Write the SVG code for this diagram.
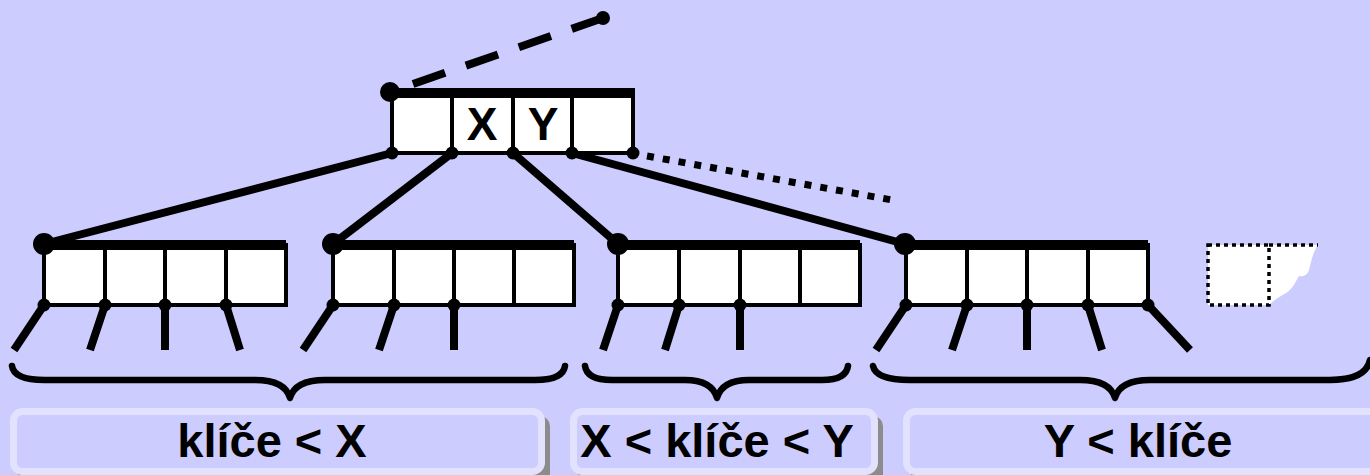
<svg xmlns="http://www.w3.org/2000/svg" width="1370" height="475" viewBox="0 0 1370 475">
<style>
.bg{fill:#ccccff}
.cell{fill:#fff;stroke:#000;stroke-width:4}
.div{stroke:#000;stroke-width:4}
.bar{stroke:#000;stroke-width:10}
.sh{fill:#8a8a9a}
.dot{fill:#000}
.edge{stroke:#000;stroke-width:8;fill:none}
.brace{stroke:#000;stroke-width:6.5;fill:none;stroke-linecap:round;stroke-linejoin:round}
.lbl{fill:#ccccff;stroke:#e2e2ff;stroke-width:7}
.lsh{fill:#8c8c8c}
.t{font-family:"Liberation Sans",Arial,sans-serif;font-weight:bold;fill:#000;text-anchor:middle}
</style>
<rect class="bg" x="0" y="0" width="1370" height="475"/>

<g id="connectors">
  <line x1="413" y1="84" x2="603" y2="18" stroke="#000" stroke-width="8" stroke-dasharray="34 22"/>
  <circle class="dot" cx="603" cy="18" r="7"/>
  <line x1="647" y1="156" x2="892" y2="200" stroke="#000" stroke-width="7" stroke-dasharray="7 9"/>
  <line class="edge" x1="392" y1="153" x2="44" y2="244"/>
  <line class="edge" x1="452" y1="153" x2="333" y2="244"/>
  <line class="edge" x1="513" y1="153" x2="618" y2="244"/>
  <line class="edge" x1="572" y1="153" x2="905" y2="244"/>
  <line class="edge" x1="44" y1="305" x2="14" y2="350"/>
  <line class="edge" x1="105" y1="305" x2="90" y2="350"/>
  <line class="edge" x1="165" y1="305" x2="165" y2="350"/>
  <line class="edge" x1="226" y1="305" x2="240" y2="350"/>
  <line class="edge" x1="333" y1="305" x2="303" y2="350"/>
  <line class="edge" x1="394" y1="305" x2="379" y2="350"/>
  <line class="edge" x1="454" y1="305" x2="454" y2="350"/>
  <line class="edge" x1="618" y1="305" x2="603" y2="350"/>
  <line class="edge" x1="679" y1="305" x2="665" y2="350"/>
  <line class="edge" x1="740" y1="305" x2="740" y2="350"/>
  <line class="edge" x1="906" y1="305" x2="876" y2="350"/>
  <line class="edge" x1="967" y1="305" x2="952" y2="350"/>
  <line class="edge" x1="1027" y1="305" x2="1027" y2="350"/>
  <line class="edge" x1="1088" y1="305" x2="1102" y2="350"/>
  <line class="edge" x1="1148" y1="305" x2="1190" y2="350"/>
</g>

<g id="root">
  <rect class="sh" x="394" y="94" width="241" height="60"/>
  <rect class="cell" x="392" y="93" width="241" height="60"/>
  <line class="div" x1="452" y1="93" x2="452" y2="153"/>
  <line class="div" x1="513" y1="93" x2="513" y2="153"/>
  <line class="div" x1="572" y1="93" x2="572" y2="153"/>
  <line class="bar" x1="390" y1="93" x2="635" y2="93"/>
  <circle class="dot" cx="390" cy="92" r="10"/>
  <circle class="dot" cx="392" cy="153" r="6.5"/>
  <circle class="dot" cx="452" cy="153" r="6.5"/>
  <circle class="dot" cx="513" cy="153" r="6.5"/>
  <circle class="dot" cx="572" cy="153" r="6.5"/>
  <circle class="dot" cx="633" cy="153" r="6.5"/>
  <text class="t" x="482" y="140" font-size="46">X</text>
  <text class="t" x="543" y="140" font-size="46">Y</text>
</g>

<g id="node1">
  <rect class="sh" x="46" y="246" width="242" height="60"/>
  <rect class="cell" x="44" y="245" width="242" height="60"/>
  <line class="div" x1="105" y1="245" x2="105" y2="305"/>
  <line class="div" x1="165" y1="245" x2="165" y2="305"/>
  <line class="div" x1="226" y1="245" x2="226" y2="305"/>
  <line class="bar" x1="44" y1="245" x2="286" y2="245"/>
  <circle class="dot" cx="44" cy="244" r="11"/>
  <circle class="dot" cx="44" cy="305" r="6.5"/>
  <circle class="dot" cx="105" cy="305" r="6.5"/>
  <circle class="dot" cx="165" cy="305" r="6.5"/>
  <circle class="dot" cx="226" cy="305" r="6.5"/>
</g>

<g id="node2">
  <rect class="sh" x="335" y="246" width="241" height="60"/>
  <rect class="cell" x="333" y="245" width="241" height="60"/>
  <line class="div" x1="394" y1="245" x2="394" y2="305"/>
  <line class="div" x1="454" y1="245" x2="454" y2="305"/>
  <line class="div" x1="514" y1="245" x2="514" y2="305"/>
  <line class="bar" x1="333" y1="245" x2="574" y2="245"/>
  <circle class="dot" cx="333" cy="244" r="11"/>
  <circle class="dot" cx="333" cy="305" r="6.5"/>
  <circle class="dot" cx="394" cy="305" r="6.5"/>
  <circle class="dot" cx="454" cy="305" r="6.5"/>
</g>

<g id="node3">
  <rect class="sh" x="620" y="246" width="242" height="60"/>
  <rect class="cell" x="618" y="245" width="242" height="60"/>
  <line class="div" x1="679" y1="245" x2="679" y2="305"/>
  <line class="div" x1="740" y1="245" x2="740" y2="305"/>
  <line class="div" x1="800" y1="245" x2="800" y2="305"/>
  <line class="bar" x1="618" y1="245" x2="860" y2="245"/>
  <circle class="dot" cx="618" cy="244" r="11"/>
  <circle class="dot" cx="618" cy="305" r="6.5"/>
  <circle class="dot" cx="679" cy="305" r="6.5"/>
  <circle class="dot" cx="740" cy="305" r="6.5"/>
</g>

<g id="node4">
  <rect class="sh" x="908" y="246" width="242" height="60"/>
  <rect class="cell" x="906" y="245" width="242" height="60"/>
  <line class="div" x1="967" y1="245" x2="967" y2="305"/>
  <line class="div" x1="1027" y1="245" x2="1027" y2="305"/>
  <line class="div" x1="1088" y1="245" x2="1088" y2="305"/>
  <line class="bar" x1="906" y1="245" x2="1148" y2="245"/>
  <circle class="dot" cx="905" cy="244" r="11"/>
  <circle class="dot" cx="906" cy="305" r="6.5"/>
  <circle class="dot" cx="967" cy="305" r="6.5"/>
  <circle class="dot" cx="1027" cy="305" r="6.5"/>
  <circle class="dot" cx="1088" cy="305" r="6.5"/>
  <circle class="dot" cx="1148" cy="305" r="6.5"/>
</g>

<g id="node5">
  <path d="M1269,245 L1318,245 C1313,252 1311,262 1309,270 C1307,276 1302,277 1299,276 C1296,280 1294,288 1286,293 C1279,297 1274,300 1269,305 Z" fill="#fff"/>
  <rect x="1208" y="245" width="61" height="60" fill="#fff" stroke="#000" stroke-width="3.5" stroke-dasharray="4 4"/>
  <line x1="1269" y1="245" x2="1318" y2="245" stroke="#000" stroke-width="3.5" stroke-dasharray="4 4"/>
</g>

<g id="braces">
  <path class="brace" d="M12,366 Q14,380 45,380 L255,380 Q285,380 290,398 Q295,380 325,380 L535,380 Q563,380 565,366"/>
  <path class="brace" d="M585,366 Q587,380 612,380 L685,380 Q712,380 717,398 Q722,380 749,380 L822,380 Q846,380 848,366"/>
  <path class="brace" d="M873,366 Q876,380 910,380 L1080,380 Q1110,380 1115,398 Q1120,380 1150,380 L1330,380 Q1366,380 1370,360"/>
</g>

<g id="label1">
  <rect class="lsh" x="18" y="416" width="532" height="70" rx="10"/>
  <rect class="lbl" x="13.5" y="411.5" width="528" height="60" rx="9"/>
  <text class="t" x="272" y="457" font-size="47">klíče &lt; X</text>
</g>
<g id="label2">
  <rect class="lsh" x="578" y="416" width="305" height="70" rx="10"/>
  <rect class="lbl" x="573.5" y="411.5" width="301" height="60" rx="9"/>
  <text class="t" x="717" y="457" font-size="47">X &lt; klíče &lt; Y</text>
</g>
<g id="label3">
  <rect class="lsh" x="911" y="416" width="480" height="70" rx="10"/>
  <rect class="lbl" x="906.5" y="411.5" width="480" height="60" rx="9"/>
  <text class="t" x="1138" y="457" font-size="47">Y &lt; klíče</text>
</g>
</svg>
